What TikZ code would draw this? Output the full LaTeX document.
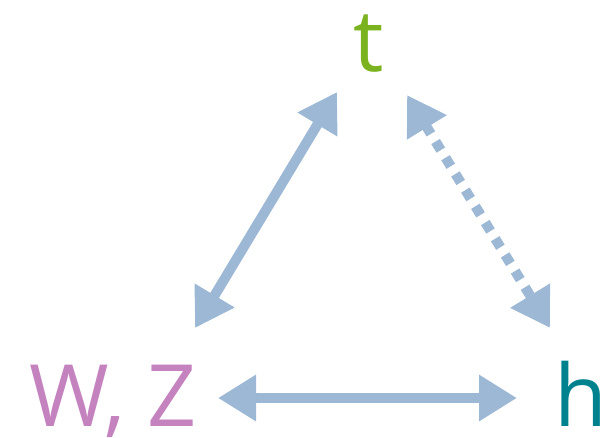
\documentclass[tikz,border=0pt]{standalone}
\usepackage{fontspec}
\setmainfont{Open Sans}
\usetikzlibrary{arrows.meta,calc}
\definecolor{arrowblue}{RGB}{157,184,213}
\definecolor{tgreen}{RGB}{122,178,32}
\definecolor{wzpurple}{RGB}{196,130,190}
\definecolor{hteal}{RGB}{0,130,142}
\tikzset{
  lbl/.style={inner sep=0pt,anchor=base,font=\fontsize{86}{88}\selectfont},
  arr/.style={draw=arrowblue,line width=10pt,
    {Triangle[length=38pt,width=44pt]}-{Triangle[length=38pt,width=44pt]}},
  dotarr/.style={arr,dash pattern=on 10pt off 9pt}
}
\begin{document}
\begin{tikzpicture}[x=1pt,y=-1pt]
\useasboundingbox (0,0) rectangle (602,438);
\node[lbl,text=tgreen] (t) at (369,72) {t};
\node[lbl,text=wzpurple] (wz) at (113,426) {W, Z};
\node[lbl,text=hteal] (h) at (581,426) {h};
\draw[arr] ($(t.base)+(-32,20)$) -- ($(wz.base)+(82,-98)$);
\draw[dotarr] ($(t.base)+(38,23)$) -- ($(h.base)+(-31,-98)$);
\draw[arr] ($(wz.base)+(105,-28)$) -- ($(h.base)+(-64,-28)$);
\end{tikzpicture}
\end{document}
